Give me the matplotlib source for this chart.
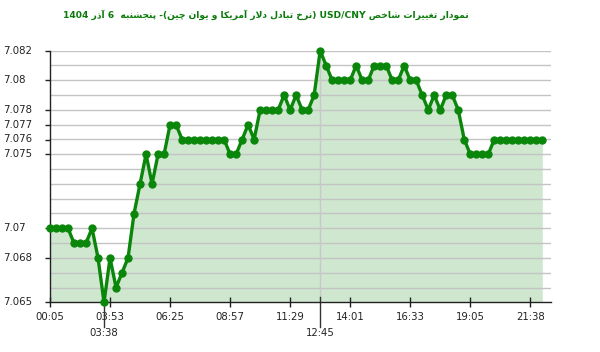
import matplotlib
matplotlib.use("Agg")
import matplotlib.pyplot as plt
import matplotlib.transforms as mtransforms
import numpy as np

# ---------------- data ----------------
values = [
    7.070, 7.070, 7.070, 7.070, 7.069, 7.069, 7.069, 7.070, 7.068, 7.065,
    7.068, 7.066, 7.067, 7.068, 7.071, 7.073, 7.075, 7.073, 7.075, 7.075,
    7.077, 7.077, 7.076, 7.076, 7.076, 7.076, 7.076, 7.076, 7.076, 7.076,
    7.075, 7.075, 7.076, 7.077, 7.076, 7.078, 7.078, 7.078, 7.078, 7.079,
    7.078, 7.079, 7.078, 7.078, 7.079, 7.082, 7.081, 7.080, 7.080, 7.080,
    7.080, 7.081, 7.080, 7.080, 7.081, 7.081, 7.081, 7.080, 7.080, 7.081,
    7.080, 7.080, 7.079, 7.078, 7.079, 7.078, 7.079, 7.079, 7.078, 7.076,
    7.075, 7.075, 7.075, 7.075, 7.076, 7.076, 7.076, 7.076, 7.076, 7.076,
    7.076, 7.076, 7.076,
]
xtick_labels = ["00:05", "03:53", "06:25", "08:57", "11:29", "14:01", "16:33", "19:05", "21:38"]
min_label = "03:38"
max_label = "12:45"
ytick_values = [7.082, 7.08, 7.078, 7.077, 7.076, 7.075, 7.07, 7.068, 7.065]
ytick_labels = ["7.082", "7.08", "7.078", "7.077", "7.076", "7.075", "7.07", "7.068", "7.065"]
title = "نمودار تغییرات شاخص USD/CNY (نرخ تبادل دلار آمریکا و یوان چین)- پنجشنبه  6 آذر 1404"

# ---------------- minimal Arabic/Persian shaping + RTL ordering ----------------
FORMS = {  # isolated, final, initial, medial
    '\u0627': (0xFE8D, 0xFE8E, None, None), '\u0622': (0xFE81, 0xFE82, None, None),
    '\u062F': (0xFEA9, 0xFEAA, None, None), '\u0630': (0xFEAB, 0xFEAC, None, None),
    '\u0631': (0xFEAD, 0xFEAE, None, None), '\u0632': (0xFEAF, 0xFEB0, None, None),
    '\u0698': (0xFB8A, 0xFB8B, None, None), '\u0648': (0xFEED, 0xFEEE, None, None),
    '\u0628': (0xFE8F, 0xFE90, 0xFE91, 0xFE92), '\u067E': (0xFB56, 0xFB57, 0xFB58, 0xFB59),
    '\u062A': (0xFE95, 0xFE96, 0xFE97, 0xFE98), '\u062B': (0xFE99, 0xFE9A, 0xFE9B, 0xFE9C),
    '\u062C': (0xFE9D, 0xFE9E, 0xFE9F, 0xFEA0), '\u0686': (0xFB7A, 0xFB7B, 0xFB7C, 0xFB7D),
    '\u062D': (0xFEA1, 0xFEA2, 0xFEA3, 0xFEA4), '\u062E': (0xFEA5, 0xFEA6, 0xFEA7, 0xFEA8),
    '\u0633': (0xFEB1, 0xFEB2, 0xFEB3, 0xFEB4), '\u0634': (0xFEB5, 0xFEB6, 0xFEB7, 0xFEB8),
    '\u0635': (0xFEB9, 0xFEBA, 0xFEBB, 0xFEBC), '\u0636': (0xFEBD, 0xFEBE, 0xFEBF, 0xFEC0),
    '\u0637': (0xFEC1, 0xFEC2, 0xFEC3, 0xFEC4), '\u0638': (0xFEC5, 0xFEC6, 0xFEC7, 0xFEC8),
    '\u0639': (0xFEC9, 0xFECA, 0xFECB, 0xFECC), '\u063A': (0xFECD, 0xFECE, 0xFECF, 0xFED0),
    '\u0641': (0xFED1, 0xFED2, 0xFED3, 0xFED4), '\u0642': (0xFED5, 0xFED6, 0xFED7, 0xFED8),
    '\u06A9': (0xFB8E, 0xFB8F, 0xFB90, 0xFB91), '\u06AF': (0xFB92, 0xFB93, 0xFB94, 0xFB95),
    '\u0644': (0xFEDD, 0xFEDE, 0xFEDF, 0xFEE0), '\u0645': (0xFEE1, 0xFEE2, 0xFEE3, 0xFEE4),
    '\u0646': (0xFEE5, 0xFEE6, 0xFEE7, 0xFEE8), '\u0647': (0xFEE9, 0xFEEA, 0xFEEB, 0xFEEC),
    '\u06CC': (0xFBFC, 0xFBFD, 0xFBFE, 0xFBFF),
}


def dual(c):
    return c in FORMS and FORMS[c][2] is not None


def shape(s):
    out = []
    i = 0
    n = len(s)
    while i < n:
        c = s[i]
        if c not in FORMS:
            out.append(c)
            i += 1
            continue
        prev = s[i - 1] if i > 0 else ''
        joins_prev = dual(prev)
        # lam-alef ligature
        if c == '\u0644' and i + 1 < n and s[i + 1] in ('\u0627', '\u0622'):
            if s[i + 1] == '\u0627':
                out.append(chr(0xFEFC if joins_prev else 0xFEFB))
            else:
                out.append(chr(0xFEF6 if joins_prev else 0xFEF5))
            i += 2
            continue
        nxt = s[i + 1] if i + 1 < n else ''
        joins_next = dual(c) and nxt in FORMS
        iso, fin, ini, med = FORMS[c]
        if joins_prev and joins_next:
            g = med
        elif joins_prev:
            g = fin
        elif joins_next:
            g = ini
        else:
            g = iso
        out.append(chr(g))
        i += 1
    return ''.join(out)


def rtl(s):
    s = shape(s)
    def is_l(ch):
        return ch.isascii() and ch.isalnum()
    kinds = [is_l(ch) for ch in s]
    for k in range(1, len(s) - 1):
        if s[k] in '/.:,' and kinds[k - 1] and kinds[k + 1]:
            kinds[k] = True
    runs = []
    for ch, k in zip(s, kinds):
        if runs and runs[-1][0] == k:
            runs[-1][1].append(ch)
        else:
            runs.append([k, [ch]])
    mirror = {'(': ')', ')': '('}
    vis = []
    for k, chars in reversed(runs):
        if k:
            vis.append(''.join(chars))
        else:
            vis.append(''.join(mirror.get(ch, ch) for ch in reversed(chars)))
    return ''.join(vis)


# ---------------- figure ----------------
W, H = 600, 352
fig = plt.figure(figsize=(W / 100, H / 100), dpi=100)
ax_left, ax_right = 50, 550.7
ax_top, ax_bottom = 50.7, 302.3
ax = fig.add_axes([ax_left / W, 1 - ax_bottom / H, (ax_right - ax_left) / W, (ax_bottom - ax_top) / H])

x = np.arange(len(values))
vals = np.array(values)
ymin, ymax = 7.065, 7.082
ax.set_xlim(0, 83.4)
ax.set_ylim(ymin, ymax)

green = '#0a870a'
ax.fill_between(x, vals, ymin, color='#cfe6cf', lw=0, zorder=1)

# grid every 0.001
for g in np.arange(ymin + 0.001, ymax + 0.0005, 0.001):
    ax.axhline(g, color='#c4c4c4', lw=1.0, zorder=2)

# vertical marker line for max inside the plot
imin = int(np.argmin(vals))
imax = int(np.argmax(vals))
ax.plot([imax, imax], [vals[imax], ymin], color='#c8c8c8', lw=1.0, zorder=2)

ax.plot(x, vals, color=green, lw=2.4, marker='o', markersize=5.0,
        markerfacecolor=green, markeredgecolor=green, zorder=4, clip_on=False,
        solid_joinstyle='round')

for s in ['top', 'right']:
    ax.spines[s].set_visible(False)
for s in ['left', 'bottom']:
    ax.spines[s].set_color('#222222')
    ax.spines[s].set_linewidth(1.0)
    ax.spines[s].set_zorder(3)

tick_idx = list(range(0, 10 * len(xtick_labels), 10))
ax.set_xticks(tick_idx)
ax.set_xticklabels(xtick_labels, fontsize=7.3, color='#222222', family='DejaVu Sans')
ax.tick_params(axis='x', direction='inout', length=7.5, width=1.0, color='#222222', pad=3)

ax.set_yticks(ytick_values)
ax.set_yticklabels([])
ax.tick_params(axis='y', direction='out', length=3.6, width=1.0, color='#222222')

yt = mtransforms.blended_transform_factory(fig.transFigure, ax.transData)
for v, lab in zip(ytick_values, ytick_labels):
    ax.text(3 / W, v, lab, transform=yt, ha='left', va='center', fontsize=7.3,
            color='#222222', family='DejaVu Sans')

# extra labels under axis for min / max
xt = mtransforms.blended_transform_factory(ax.transData, fig.transFigure)
for idx, lab in ((imin, min_label), (imax, max_label)):
    ax.plot([idx, idx], [1 - 296.5 / H, 1 - 327 / H], transform=xt, color='#333333',
            lw=1.0, clip_on=False, zorder=3)
    ax.text(idx, 1 - 333.5 / H, lab, transform=xt, ha='center', va='center',
            fontsize=7.3, color='#222222', family='DejaVu Sans')

fig.text(266 / W, 1 - 14.5 / H, rtl(title), ha='center', va='center', fontsize=6.6,
         fontweight='bold', color='#0a7a0a', family=['DejaVu Sans'])

fig.savefig('out.png', dpi=100)
